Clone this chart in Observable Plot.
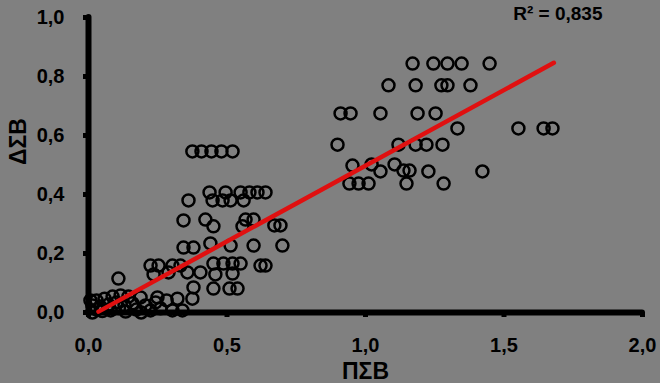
<!DOCTYPE html>
<html>
<head>
<meta charset="utf-8">
<script src="https://cdn.jsdelivr.net/npm/d3@7"></script>
<script src="https://cdn.jsdelivr.net/npm/@observablehq/plot@0.6"></script>
<style>
  html, body { margin: 0; padding: 0; background: #808080; }
  #chart svg { display: block; background: #808080; }
</style>
</head>
<body>
<div id="chart"></div>
<script>
const xTicks = [0, 0.5, 1.0, 1.5, 2.0];
const yTicks = [0, 0.2, 0.4, 0.6, 0.8, 1.0];
const xLabel = "ΠΣΒ";
const yLabel = "ΔΣΒ";
const r2Label = "R² = 0,835";

const pseValues = [
  1.17, 1.245, 1.296, 1.347, 1.448,
  1.083, 1.181, 1.274, 1.296, 1.379,
  0.91, 0.946, 1.054, 1.188, 1.253,
  1.332, 1.552, 1.643, 1.675,
  0.899, 1.119, 1.181, 1.22, 1.278,
  0.953, 1.022, 1.054, 1.105, 1.137, 1.159, 1.227, 1.422,
  0.942, 0.975, 1.011, 1.148, 1.282,
  0.375, 0.408, 0.444, 0.48, 0.52,
  0.437, 0.495, 0.549, 0.581, 0.61, 0.639,
  0.361, 0.448, 0.484, 0.513, 0.56,
  0.343, 0.422, 0.451, 0.567, 0.596, 0.556, 0.671, 0.693,
  0.343, 0.379, 0.44, 0.513, 0.596, 0.7,
  0.621, 0.639,
  0.224, 0.253, 0.303, 0.332, 0.451, 0.487, 0.52, 0.549,
  0.235, 0.289, 0.357, 0.404, 0.458, 0.52,
  0.108,
  0.379, 0.451, 0.509, 0.538,
  0.321, 0.375, 0.249,
  0.007, 0.014, 0.029, 0.043, 0.058, 0.072, 0.087, 0.101, 0.116, 0.13,
  0.144, 0.159, 0.173, 0.188, 0.206, 0.224, 0.242, 0.26, 0.282, 0.303,
  0.339, 0.014, 0.08, 0.134, 0.05, 0.19, 0.11, 0.03
];
const dseValues = [
  0.844, 0.844, 0.844, 0.844, 0.844,
  0.77, 0.77, 0.77, 0.77, 0.77,
  0.675, 0.675, 0.675, 0.675, 0.675,
  0.624, 0.624, 0.624, 0.624,
  0.569, 0.569, 0.569, 0.569, 0.569,
  0.498, 0.502, 0.478, 0.502, 0.481, 0.481, 0.478, 0.478,
  0.437, 0.437, 0.437, 0.437, 0.437,
  0.546, 0.546, 0.546, 0.546, 0.546,
  0.407, 0.407, 0.407, 0.407, 0.407, 0.407,
  0.38, 0.38, 0.38, 0.38, 0.38,
  0.312, 0.315, 0.292, 0.315, 0.315, 0.292, 0.295, 0.295,
  0.22, 0.22, 0.234, 0.227, 0.227, 0.227,
  0.159, 0.159,
  0.159, 0.159, 0.159, 0.159, 0.166, 0.166, 0.166, 0.166,
  0.129, 0.136, 0.136, 0.136, 0.129, 0.132,
  0.115,
  0.085, 0.081, 0.081, 0.081,
  0.047, 0.047, 0.051,
  0.041, 0.024, 0.041, 0.02, 0.047, 0.027, 0.054, 0.034, 0.058, 0.024,
  0.054, 0.031, 0.01, 0.051, 0.024, 0.007, 0.034, 0.014, 0.041, 0.007,
  0.007, 0.0, 0.007, 0.003, 0.005, 0.0, 0.015, 0.01
];

// linear trend line (as shown in the reference): y = a + b*x
const trendSlope = 0.513;
const trendIntercept = -0.0155;
const trendRange = [0.036, 1.68];

const points = pseValues.map((x, i) => ({x, y: dseValues[i]}));
const trend = trendRange.map(x => ({x, y: trendIntercept + trendSlope * x}));

const fmt = d => d.toFixed(1).replace(".", ",");
const font = "Liberation Sans, Arial, sans-serif";

const chart = Plot.plot({
  width: 660,
  height: 383,
  marginLeft: 88,
  marginRight: 18,
  marginTop: 17,
  marginBottom: 71,
  style: {background: "#808080", fontFamily: font, color: "#000"},
  x: {domain: [0, 2]},
  y: {domain: [0, 1]},
  marks: [
    Plot.axisX(xTicks, {tickSize: 5, tickPadding: 20, tickFormat: fmt, fontSize: 20, fontWeight: "bold", strokeWidth: 5, stroke: "#000", fill: "#000", label: null}),
    Plot.axisY(yTicks, {tickSize: 5, tickPadding: 19, tickFormat: fmt, fontSize: 20, fontWeight: "bold", strokeWidth: 5, stroke: "#000", fill: "#000", label: null}),
    Plot.ruleX([0], {stroke: "#000", strokeWidth: 6, strokeLinecap: "round"}),
    Plot.ruleY([0], {stroke: "#000", strokeWidth: 6, strokeLinecap: "round"}),
    Plot.dot(points, {x: "x", y: "y", r: 6, stroke: "#000", strokeWidth: 2.5, fill: "none"}),
    Plot.line(trend, {x: "x", y: "y", stroke: "#e01010", strokeWidth: 4.5, strokeLinecap: "round"}),
    Plot.text([xLabel], {frameAnchor: "bottom", dy: 59, text: d => d, fontSize: 23, fontWeight: "bold", fill: "#000", lineAnchor: "middle"}),
    Plot.text([yLabel], {frameAnchor: "left", dx: -70, rotate: -90, text: d => d, fontSize: 23, fontWeight: "bold", fill: "#000", lineAnchor: "middle"}),
    Plot.text([r2Label], {frameAnchor: "top-right", dx: -40, dy: -4, textAnchor: "end", text: d => d, fontSize: 19, fontWeight: "bold", fill: "#000", lineAnchor: "middle"})
  ]
});
document.getElementById("chart").appendChild(chart);
</script>
</body>
</html>
